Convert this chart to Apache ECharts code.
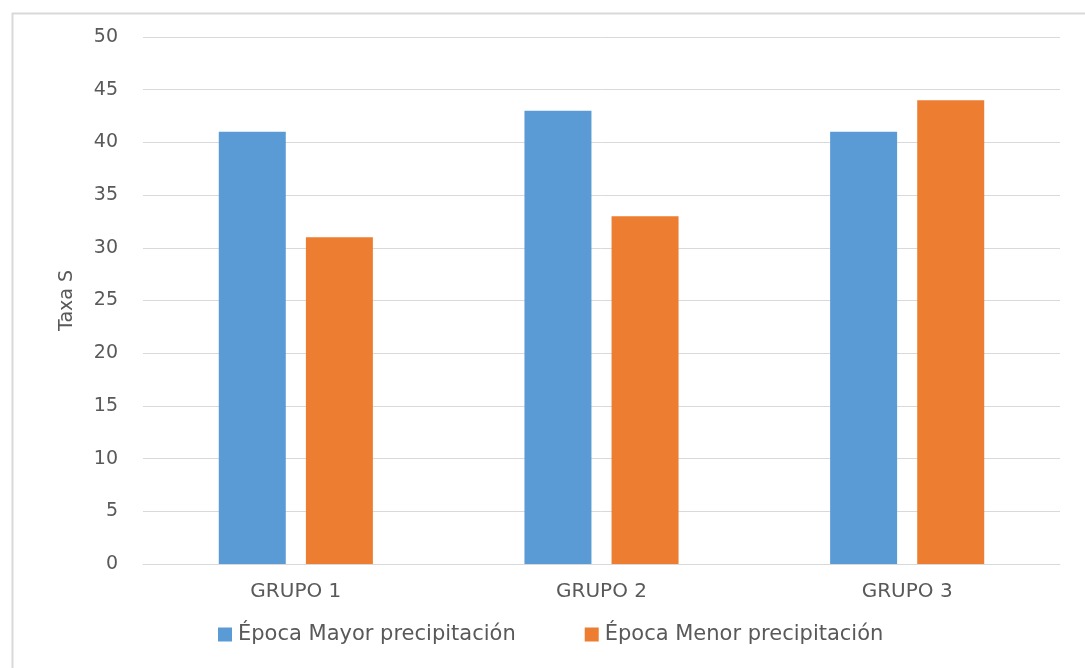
<!DOCTYPE html>
<html><head><meta charset="utf-8">
<script src="https://cdn.jsdelivr.net/npm/echarts@6/dist/echarts.min.js"></script>
<style>html,body{margin:0;padding:0;background:#fff}#c{width:1085px;height:668px}</style>
</head><body><div id="c"></div>
<script>
const categories = ['GRUPO 1', 'GRUPO 2', 'GRUPO 3'];
const seriesNames = ['Época Mayor precipitación', 'Época Menor precipitación'];
const mayor = [41, 43, 41];
const menor = [31, 33, 44];
const yTicks = { min: 0, max: 50, interval: 5 };
const yTitle = 'Taxa S';

const chart = echarts.init(document.getElementById('c'), null, {renderer: 'canvas'});
const font = '"DejaVu Sans", sans-serif';
chart.setOption({
  animation: false,
  textStyle: {fontFamily: font},
  graphic: [{
    type: 'rect', left: 10, top: 11, shape: {width: 1200, height: 800},
    style: {fill: 'none', stroke: '#d9d9d9', lineWidth: 2}, z: -1
  }],
  grid: {left: 143, right: 25, top: 37, bottom: 104},
  legend: {
    bottom: 18, left: 213, itemWidth: 14, itemHeight: 14, itemGap: 69,
    icon: 'rect',
    textStyle: {color: '#595959', fontSize: 21, fontFamily: font, padding: [0, 0, 0, 1]},
    data: seriesNames
  },
  xAxis: {
    type: 'category', data: categories,
    axisLine: {lineStyle: {color: '#d9d9d9', width: 1}},
    axisTick: {show: false},
    axisLabel: {color: '#595959', fontSize: 20, margin: 18, fontFamily: font}
  },
  yAxis: {
    type: 'value', min: yTicks.min, max: yTicks.max, interval: yTicks.interval,
    name: yTitle, nameLocation: 'middle', nameGap: 66,
    nameTextStyle: {color: '#595959', fontSize: 19, fontFamily: font},
    axisLine: {show: false}, axisTick: {show: false},
    axisLabel: {color: '#595959', fontSize: 19, margin: 25, fontFamily: font},
    splitLine: {lineStyle: {color: '#d9d9d9', width: 1}}
  },
  series: [
    {name: seriesNames[0], type: 'bar', data: mayor, barWidth: 67, barGap: '30%',
     itemStyle: {color: '#5b9bd5'}},
    {name: seriesNames[1], type: 'bar', data: menor, barWidth: 67,
     itemStyle: {color: '#ed7d31'}}
  ]
});
</script></body></html>
